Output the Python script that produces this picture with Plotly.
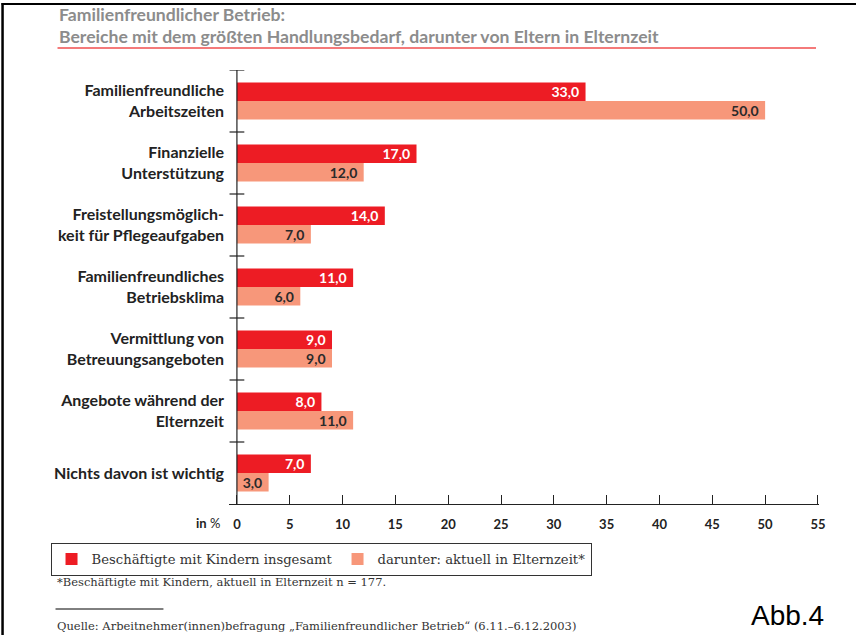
import plotly.graph_objects as go

categories = [
    "Familienfreundliche<br>Arbeitszeiten",
    "Finanzielle<br>Unterstützung",
    "Freistellungsmöglich-<br>keit für Pflegeaufgaben",
    "Familienfreundliches<br>Betriebsklima",
    "Vermittlung von<br>Betreuungsangeboten",
    "Angebote während der<br>Elternzeit",
    "Nichts davon ist wichtig",
]
insgesamt = [33.0, 17.0, 14.0, 11.0, 9.0, 8.0, 7.0]
elternzeit = [50.0, 12.0, 7.0, 6.0, 9.0, 11.0, 3.0]
x_ticks = [0, 5, 10, 15, 20, 25, 30, 35, 40, 45, 50, 55]
series_names = ["Beschäftigte mit Kindern insgesamt", "darunter: aktuell in Elternzeit*"]

RED = "#ed1c24"
SALMON = "#f7977a"

W, H = 856, 635
L, R, T, B = 228.6, 37, 70, 131
PW, PH = W - L - R, H - T - B


def px(x):
    return (x - L) / PW


def py(y):
    return 1 - (y - T) / PH


def fmt(v):
    return f"{v:.1f}".replace(".", ",") + "\u00a0"


fig = go.Figure()
fig.add_trace(go.Bar(
    y=categories, x=insgesamt, orientation="h", name=series_names[0],
    marker=dict(color=RED, line=dict(width=0)),
    text=[fmt(v) for v in insgesamt], textposition="inside", insidetextanchor="end",
    textangle=0, constraintext="none",
    textfont=dict(family="Lato", size=14, color="white", weight="bold"),
))
fig.add_trace(go.Bar(
    y=categories, x=elternzeit, orientation="h", name=series_names[1],
    marker=dict(color=SALMON, line=dict(width=0)),
    text=[fmt(v) for v in elternzeit], textposition="inside", insidetextanchor="end",
    textangle=0, constraintext="none",
    textfont=dict(family="Lato", size=14, color="#2a2a2a", weight="bold"),
))

shapes = []
# y axis line at x = 0
shapes.append(dict(type="line", xref="x", yref="paper", x0=0, x1=0, y0=0, y1=1,
                   line=dict(color="#222", width=1.2)))
# crossing ticks at category boundaries
for i in range(len(categories)):
    b = i - 0.5
    shapes.append(dict(type="line", xref="x", yref="y", x0=-0.7, x1=0.7, y0=b, y1=b,
                       line=dict(color="#222", width=1.2)))
# frame (left and top)
shapes.append(dict(type="line", xref="paper", yref="paper", x0=px(2), x1=px(2), y0=py(3), y1=py(H + 5),
                   line=dict(color="black", width=2.5)))
shapes.append(dict(type="line", xref="paper", yref="paper", x0=px(1), x1=px(W + 5), y0=py(4), y1=py(4),
                   line=dict(color="black", width=2)))
# title underline
shapes.append(dict(type="line", xref="paper", yref="paper", x0=px(57), x1=px(816), y0=py(48), y1=py(48),
                   line=dict(color="#f47a7a", width=2)))
# source separator line
shapes.append(dict(type="line", xref="paper", yref="paper", x0=px(55), x1=px(163), y0=py(609), y1=py(609),
                   line=dict(color="black", width=1)))

title_font = dict(family="Lato", size=17.6, color="#8c8c8c", weight="bold")
foot_font = dict(family="DejaVu Serif", size=11.5, color="#333")
annotations = [
    dict(text="Familienfreundlicher Betrieb:",
         xref="paper", yref="paper", x=px(56), y=py(14), xanchor="left", yanchor="middle",
         showarrow=False, font=title_font),
    dict(text="Bereiche mit dem größten Handlungsbedarf, darunter von Eltern in Elternzeit",
         xref="paper", yref="paper", x=px(56), y=py(36), xanchor="left", yanchor="middle",
         showarrow=False, font=title_font),
    dict(text="<b>in</b> %", xref="paper", yref="paper", x=px(222), y=py(523), xanchor="right", yanchor="middle",
         showarrow=False, font=dict(family="Lato", size=13, color="#222")),
    dict(text="*Beschäftigte mit Kindern, aktuell in Elternzeit n = 177.", xref="paper", yref="paper",
         x=px(54), y=py(582), xanchor="left", yanchor="middle", showarrow=False, font=foot_font),
    dict(text="Quelle: Arbeitnehmer(innen)befragung „Familienfreundlicher Betrieb“ (6.11.–6.12.2003)",
         xref="paper", yref="paper", x=px(54), y=py(626), xanchor="left", yanchor="middle", showarrow=False,
         font=foot_font),
    dict(text="Abb.4", xref="paper", yref="paper", x=px(749), y=py(615), xanchor="left", yanchor="middle",
         showarrow=False, font=dict(family="Liberation Sans", size=28, color="black")),
]

fig.update_layout(
    width=W, height=H,
    margin=dict(l=L, r=R, t=T, b=B, pad=0),
    paper_bgcolor="white", plot_bgcolor="white",
    barmode="group", bargap=0.40, bargroupgap=0,
    showlegend=True,
    legend=dict(orientation="h", x=px(50), y=py(543), xanchor="left", yanchor="top",
                bordercolor="#333", borderwidth=1, bgcolor="white",
                font=dict(family="DejaVu Serif", size=13.2, color="#333"),
                itemwidth=30, traceorder="normal",
                itemclick=False, itemdoubleclick=False),
    shapes=shapes, annotations=annotations,
    xaxis=dict(range=[-0.75, 55.1], tickvals=x_ticks, ticktext=[str(t) for t in x_ticks],
               showgrid=False, zeroline=False, showline=True, linecolor="#222", linewidth=1.2,
               ticks="inside", ticklen=9, tickcolor="#222", tickwidth=1.2, ticklabelstandoff=8,
               tickfont=dict(family="Lato", size=13, color="#222", weight="bold")),
    yaxis=dict(categoryorder="array", categoryarray=categories, range=[6.5, -0.5],
               showgrid=False, zeroline=False, showline=False, ticks="", ticklabelstandoff=4,
               tickfont=dict(family="Lato", size=16, color="#222", weight="bold")),
)

fig.write_html("out.html",
               config={"displayModeBar": False},
               post_script="document.body.style.margin='0px';document.body.style.padding='0px';"
                           "document.body.style.overflow='hidden';")
